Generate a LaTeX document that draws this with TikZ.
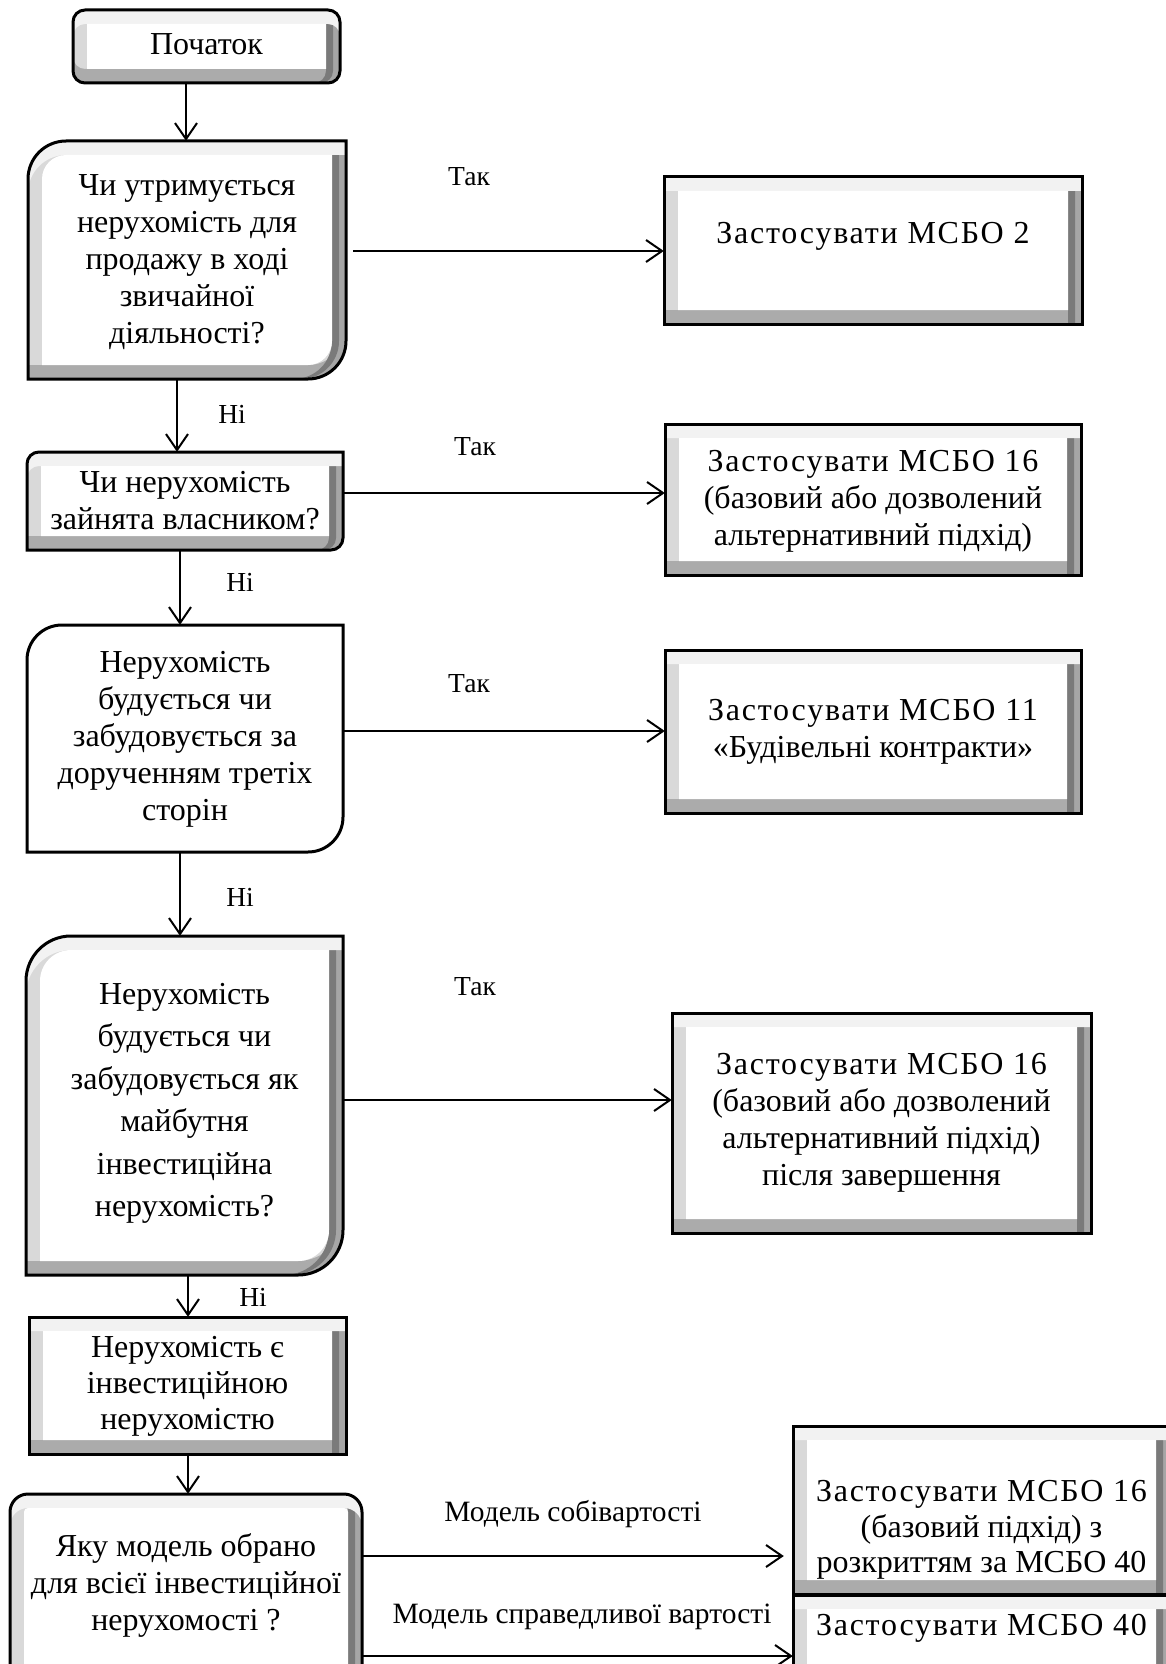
\documentclass[tikz,border=0pt]{standalone}
\usepackage{fontspec}
\setmainfont{Liberation Serif}
\usetikzlibrary{arrows.meta}
\def\bw{14}
\newcommand\zs[1]{{\addfontfeature{LetterSpace=5.5}#1}}
\newcommand\rpath[8]{%
({(#1)+(#5)},{#2}) -- ({(#3)-(#6)},{#2}) .. controls ({(#3)-0.4477*(#6)},{#2}) and ({#3},{(#2)+0.4477*(#6)}) .. ({#3},{(#2)+(#6)})
-- ({#3},{(#4)-(#7)}) .. controls ({#3},{(#4)-0.4477*(#7)}) and ({(#3)-0.4477*(#7)},{#4}) .. ({(#3)-(#7)},{#4})
-- ({(#1)+(#8)},{#4}) .. controls ({(#1)+0.4477*(#8)},{#4}) and ({#1},{(#4)-0.4477*(#8)}) .. ({#1},{(#4)-(#8)})
-- ({#1},{(#2)+(#5)}) .. controls ({#1},{(#2)+0.4477*(#5)}) and ({(#1)+0.4477*(#5)},{#2}) .. cycle}
\newcommand\bevbox[8]{%
 \fill[bevL] \rpath{#1}{#2}{#3}{#4}{#5}{#6}{#7}{#8};
 \begin{scope}
  \clip \rpath{#1}{#2}{#3}{#4}{#5}{#6}{#7}{#8};
  \fill[bevB,even odd rule] \rpath{#1}{#2}{#3}{#4}{#5}{#6}{#7}{#8} \rpath{#1}{(#2)-\bw}{#3}{(#4)-\bw}{#5}{#6}{#7}{#8};
  \fill[bevR,even odd rule] \rpath{#1}{#2}{#3}{#4}{#5}{#6}{#7}{#8} \rpath{(#1)-\bw}{#2}{(#3)-\bw}{#4}{#5}{#6}{#7}{#8};
  \fill[bevRi,even odd rule] \rpath{(#1)-0.5*\bw}{#2}{(#3)-0.5*\bw}{#4}{#5}{#6}{#7}{#8} \rpath{(#1)-\bw}{#2}{(#3)-\bw}{#4}{#5}{#6}{#7}{#8};
  \fill[bevT,even odd rule] \rpath{#1}{#2}{#3}{#4}{#5}{#6}{#7}{#8} \rpath{#1}{(#2)+\bw}{#3}{(#4)+\bw}{#5}{#6}{#7}{#8};
 \end{scope}
 \fill[white] \rpath{(#1)+\bw}{(#2)+\bw}{(#3)-\bw}{(#4)-\bw}{max((#5)-\bw,0)}{max((#6)-\bw,0)}{max((#7)-\bw,0)}{max((#8)-\bw,0)};
 \draw[bord] \rpath{#1}{#2}{#3}{#4}{#5}{#6}{#7}{#8};
}
\begin{document}
\begin{tikzpicture}[x=1pt,y=-1pt,
  bevL/.style={fill=black!15},
  bevB/.style={fill=black!33},
  bevR/.style={fill=black!35},
  bevRi/.style={fill=black!52},
  bevT/.style={fill=black!5},
  bord/.style={draw=black,line width=3pt},
  boxn/.style={draw=none,inner sep=0pt,rectangle},
  txt/.style={align=center,inner sep=0pt,font=\fontsize{32}{37}\selectfont},
  lbl/.style={inner sep=0pt,font=\fontsize{27.5}{32}\selectfont},
  arr/.style={line width=2pt,-{Straight Barb[length=16pt,width=22pt]}}]
\useasboundingbox (0,0) rectangle (1166,1664);
\fill[white] (0,0) rectangle (1166,1664);
\begin{scope}
\clip (0,0) rectangle (1166,1664);
% shapes
\bevbox{73}{10}{340}{83}{12}{12}{12}{12}
\bevbox{28}{141}{346}{379}{38}{0}{38}{0}
\bevbox{664}{177}{1082}{324}{0}{0}{0}{0}
\bevbox{27}{452}{343}{550}{12}{0}{12}{0}
\bevbox{665}{424}{1081}{575}{0}{0}{0}{0}
\fill[white] \rpath{27}{625}{343}{852}{35}{0}{35}{0};
\draw[bord] \rpath{27}{625}{343}{852}{35}{0}{35}{0};
\bevbox{665}{650}{1081}{813}{0}{0}{0}{0}
\bevbox{26}{936}{343}{1275}{45}{0}{45}{0}
\bevbox{672}{1013}{1091}{1233}{0}{0}{0}{0}
\bevbox{29}{1317}{346}{1454}{0}{0}{0}{0}
\bevbox{10}{1494}{362}{1700}{18}{18}{18}{18}
\bevbox{793}{1426}{1170}{1594}{0}{0}{0}{0}
\bevbox{793}{1595}{1170}{1710}{0}{0}{0}{0}
\end{scope}
% named box nodes
\node[boxn,minimum width=267pt,minimum height=73pt] (start) at (206.5,46.5) {};
\node[boxn,minimum width=318pt,minimum height=238pt] (d1) at (187,260) {};
\node[boxn,minimum width=418pt,minimum height=147pt] (b1) at (873,250.5) {};
\node[boxn,minimum width=316pt,minimum height=98pt] (d2) at (185,501) {};
\node[boxn,minimum width=416pt,minimum height=151pt] (b2) at (873,499.5) {};
\node[boxn,minimum width=316pt,minimum height=227pt] (d3) at (185,738.5) {};
\node[boxn,minimum width=416pt,minimum height=163pt] (b3) at (873,731.5) {};
\node[boxn,minimum width=317pt,minimum height=339pt] (d4) at (184.5,1105.5) {};
\node[boxn,minimum width=419pt,minimum height=220pt] (b4) at (881.5,1123) {};
\node[boxn,minimum width=317pt,minimum height=137pt] (inv) at (187.5,1385.5) {};
\node[boxn,minimum width=352pt,minimum height=206pt] (d5) at (186,1597) {};
\node[boxn,minimum width=377pt,minimum height=168pt] (b5) at (981.5,1510) {};
\node[boxn,minimum width=377pt,minimum height=115pt] (b6) at (981.5,1652.5) {};
% texts
\node[txt] (tstart) at (206.5,44) {Початок};
\node[txt] (td1) at (187,262) {Чи утримується\\нерухомість для\\продажу в ході\\звичайної\\діяльності?};
\node[txt] (tb1) at (873,236) {\zs{Застосувати МСБО 2}};
\node[txt] (td2) at (185,501) {Чи нерухомість\\зайнята власником?};
\node[txt] (tb2) at (873,501) {\zs{Застосувати МСБО 16}\\(базовий або дозволений\\альтернативний підхід)};
\node[txt] (td3) at (185,739.5) {Нерухомість\\будується чи\\забудовується за\\дорученням третіх\\сторін};
\node[txt] (tb3) at (873,732) {\zs{Застосувати МСБО 11}\\«Будівельні контракти»};
\node[txt,font=\fontsize{32}{42.5}\selectfont] (td4) at (184.5,1103.5) {Нерухомість\\будується чи\\забудовується як\\майбутня\\інвестиційна\\нерухомість?};
\node[txt] (tb4) at (881.5,1123) {\zs{Застосувати МСБО 16}\\(базовий або дозволений\\альтернативний підхід)\\після завершення};
\node[txt,font=\fontsize{32}{36}\selectfont] (tinv) at (187.5,1386) {Нерухомість є\\інвестиційною\\нерухомістю};
\node[txt] (td5) at (186,1585) {Яку модель обрано\\для всієї інвестиційної\\нерухомості ?};
\node[txt,font=\fontsize{32}{35.5}\selectfont] (tb5) at (981.5,1530) {\zs{Застосувати МСБО 16}\\(базовий підхід) з\\розкриттям за МСБО 40};
\node[txt] (tb6) at (981.5,1628) {\zs{Застосувати МСБО 40}};
% labels
\node[lbl] (l1) at (469,177) {Так};
\node[lbl] (l2) at (232,414) {Ні};
\node[lbl] (l3) at (475,447) {Так};
\node[lbl] (l4) at (240,582) {Ні};
\node[lbl] (l5) at (469,684) {Так};
\node[lbl] (l6) at (240,897) {Ні};
\node[lbl] (l7) at (475,987) {Так};
\node[lbl] (l8) at (253,1297) {Ні};
\node[lbl,font=\fontsize{29.5}{34}\selectfont] (l9) at (573,1514) {Модель собівартості};
\node[lbl,font=\fontsize{29.5}{34}\selectfont] (l10) at (582,1617) {Модель справедливої вартості};
% connectors
\draw[arr] (start.south -| 186,0) -- (d1.north -| 186,0);
\draw[arr,shorten <=7pt] (d1.east |- 0,251) -- (b1.west |- 0,251);
\draw[arr] (d1.south -| 177,0) -- (d2.north -| 177,0);
\draw[arr] (d2.east |- 0,493) -- (b2.west |- 0,493);
\draw[arr] (d2.south -| 180,0) -- (d3.north -| 180,0);
\draw[arr] (d3.east |- 0,731) -- (b3.west |- 0,731);
\draw[arr] (d3.south -| 180,0) -- (d4.north -| 180,0);
\draw[arr] (d4.east |- 0,1100) -- (b4.west |- 0,1100);
\draw[arr] (d4.south -| 188,0) -- (inv.north -| 188,0);
\draw[arr] (inv.south -| 188,0) -- (d5.north -| 188,0);
\draw[arr] (d5.east |- 0,1556) -- ([xshift=-9pt]b5.west |- 0,1556);
\draw[arr] (d5.east |- 0,1656) -- (b6.west |- 0,1656);
\end{tikzpicture}
\end{document}
